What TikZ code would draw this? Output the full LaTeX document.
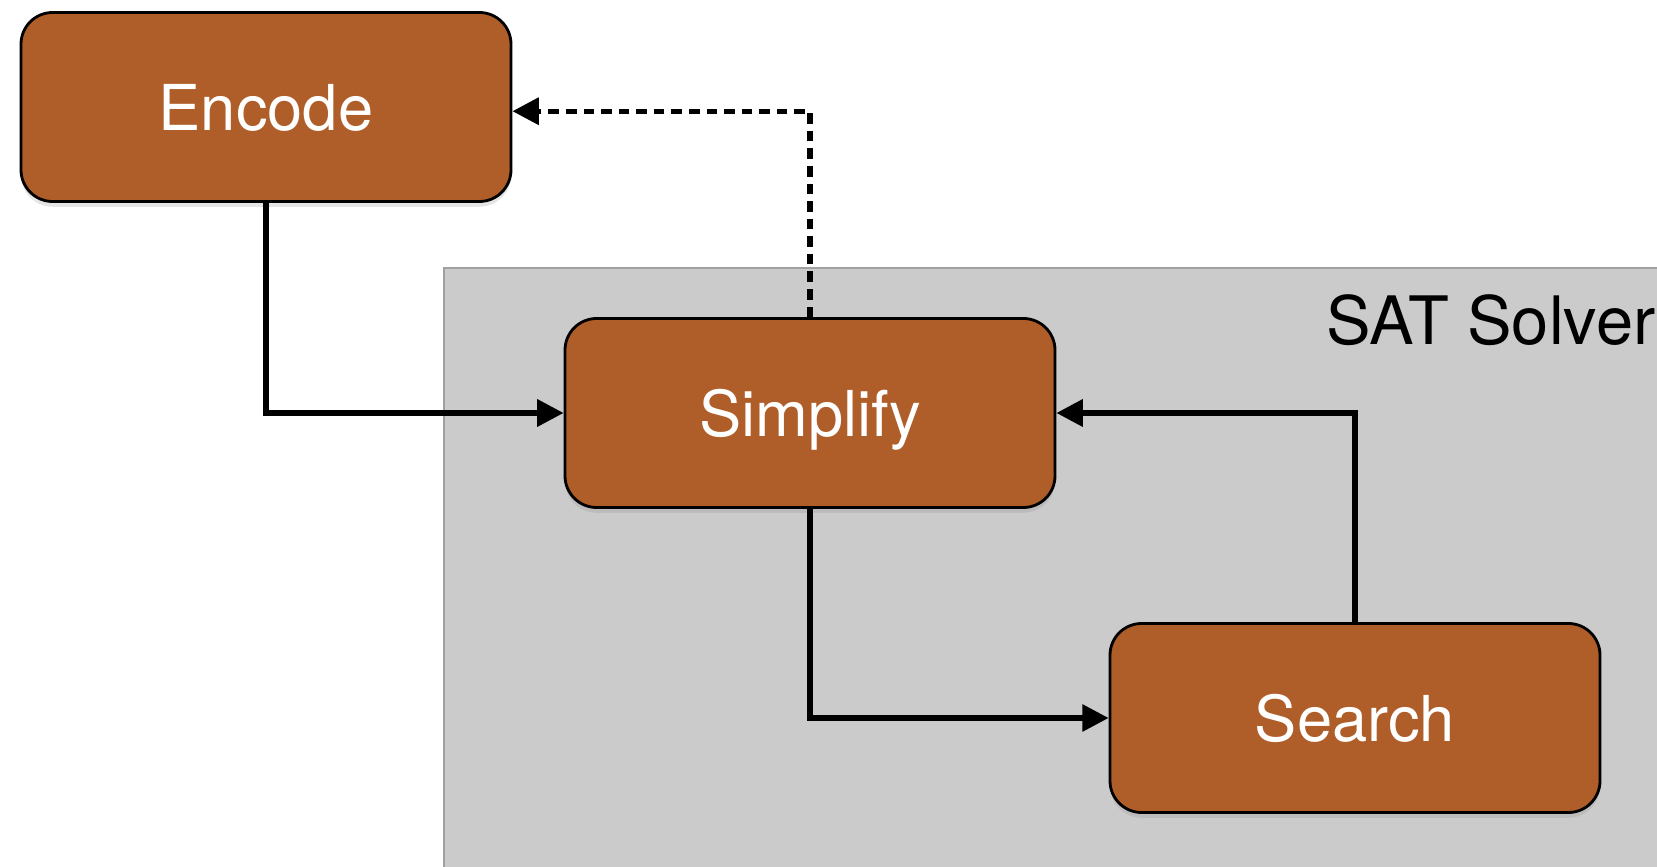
\documentclass[tikz,border=0pt]{standalone}
\usepackage{fontspec}
\setmainfont{TeX Gyre Heros}
\usetikzlibrary{arrows.meta,shadows}
\definecolor{rust}{RGB}{176,94,41}
\definecolor{panel}{RGB}{203,203,203}
\definecolor{panelline}{RGB}{160,160,160}

\begin{document}
\begin{tikzpicture}
  [stage/.style={draw=black,line width=.8pt,fill=rust,text=white,rounded corners=9pt,
     minimum width=4.9cm,minimum height=1.89cm,text depth=0pt,font=\fontsize{18}{20}\selectfont,
     drop shadow={shadow xshift=0pt,shadow yshift=-1.5pt,opacity=.2}},
   link/.style={line width=1.5pt,-{Triangle[length=7.5pt,width=7.5pt]}}]
  \useasboundingbox (0,0) rectangle (16.57,8.66);
  \fill[white] (0,0) rectangle (16.57,8.66);
  \node (solver) [draw=panelline,fill=panel,line width=.6pt,minimum width=12.6cm,minimum height=6.3cm,
     anchor=north west] at (4.43,5.99) {};
  \node (label) [inner sep=0pt,font=\fontsize{19}{21}\selectfont,anchor=base east] at (16.56,5.21) {SAT Solver};
  \node (encode) [stage] at (2.66,7.59) {Encode};
  \node (simplify) [stage] at (8.10,4.53) {Simplify};
  \node (search) [stage] at (13.55,1.48) {Search};
  \foreach \from/\to in {encode.south/simplify.west,simplify.south/search.west,search.north/simplify.east}
    \draw[link] (\from) |- (\to);
  \draw[link,dash pattern=on 3pt off 2pt] (simplify.north) |- ([yshift=-1.2pt]encode.east);

\end{tikzpicture}
\end{document}
